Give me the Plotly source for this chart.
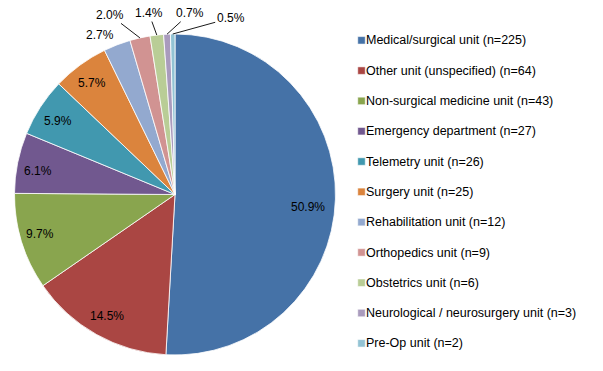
import math
import plotly.graph_objects as go

categories = [
    "Medical/surgical unit (n=225)",
    "Other unit (unspecified) (n=64)",
    "Non-surgical medicine unit (n=43)",
    "Emergency department (n=27)",
    "Telemetry unit (n=26)",
    "Surgery unit (n=25)",
    "Rehabilitation unit (n=12)",
    "Orthopedics unit (n=9)",
    "Obstetrics unit (n=6)",
    "Neurological / neurosurgery unit (n=3)",
    "Pre-Op unit (n=2)",
]
counts = [225, 64, 43, 27, 26, 25, 12, 9, 6, 3, 2]
colors = ["#4572A7", "#AA4643", "#89A54E", "#71588F", "#4198AF", "#DB843D",
          "#93A9CF", "#D19392", "#B9CD96", "#A99BBD", "#92C3D4"]

W, H = 603, 371
cx, cy, r = 175, 194.5, 160.5
n_inside = 6
FONT = "Liberation Sans, Arial, sans-serif"

legend_labels = ["<span style='font-size:12.5px'>%s</span><br> " % c for c in categories]

fig = go.Figure(go.Pie(
    labels=legend_labels,
    values=counts,
    sort=False,
    direction="clockwise",
    rotation=0,
    marker=dict(colors=colors, line=dict(color="white", width=0.8)),
    textinfo="none",
    hoverinfo="label+percent",
    domain=dict(x=[(cx - r) / W, (cx + r) / W], y=[1 - (cy + r) / H, 1 - (cy - r) / H]),
))

# percentage labels, anchored on each slice's mid angle (computed from the data)
total = sum(counts)
# inside labels: pixel nudge from the point at 0.8 r on the mid angle
inside_shift = [(5, 9), (-5, 9.5), (-12, 2), (-11.5, 2), (-9, -3.5), (-7, -8)]
# outside labels: offset of the text centre from the slice's rim point
outside_off = [(-17, -10, False), (-30, -23, True), (-8, -22, True),
               (23, -21, True), (58, -16, True)]
cum = 0
annotations = []
for i, v in enumerate(counts):
    mid = (cum + v / 2) / total * 2 * math.pi
    cum += v
    txt = "%.1f%%" % (v / total * 100)
    base = dict(xref="paper", yref="paper", text=txt, xanchor="center", yanchor="middle",
                font=dict(family=FONT, size=12, color="#000000"))
    if i < n_inside:
        px = cx + 0.8 * r * math.sin(mid)
        py = cy - 0.8 * r * math.cos(mid)
        dx, dy = inside_shift[i]
        base.update(x=px / W, y=1 - py / H, showarrow=False, xshift=dx, yshift=-dy)
    else:
        px = cx + r * math.sin(mid)
        py = cy - r * math.cos(mid)
        dx, dy, arrow = outside_off[i - n_inside]
        base.update(x=px / W, y=1 - py / H)
        if arrow:
            base.update(showarrow=True, ax=dx, ay=dy, arrowhead=0, arrowwidth=0.9,
                        arrowcolor="#000000", standoff=0)
        else:
            base.update(showarrow=False, xshift=dx, yshift=-dy)
    annotations.append(base)

fig.update_layout(
    width=W, height=H,
    margin=dict(l=0, r=0, t=0, b=0),
    paper_bgcolor="white",
    plot_bgcolor="white",
    showlegend=True,
    legend=dict(x=326 / W, y=1 - 33 / H, xanchor="left", yanchor="top",
                valign="top",
                font=dict(family=FONT, size=10.5, color="#000000"),
                bgcolor="rgba(0,0,0,0)"),
    annotations=annotations,
)

post = """
document.body.style.margin = '0';
document.querySelectorAll('.legendpie').forEach(function(p){
  p.setAttribute('transform', 'translate(35.5,0) scale(0.62)');
});
"""
fig.write_html("out.html", post_script=post, config={"displayModeBar": False})
